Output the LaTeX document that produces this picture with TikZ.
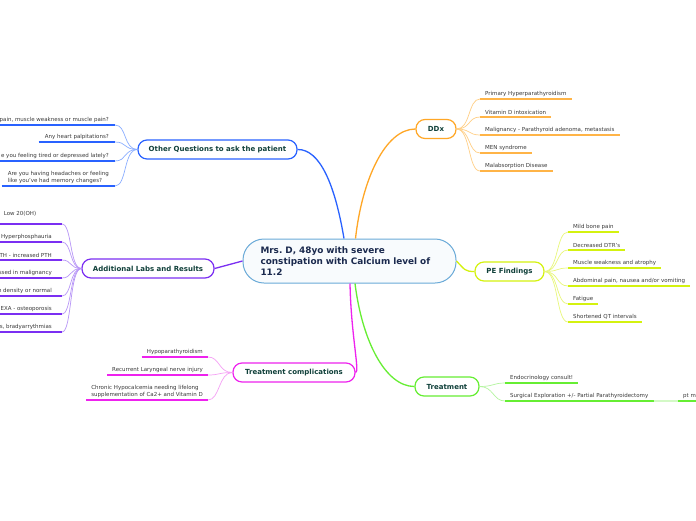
\documentclass[tikz,border=0pt]{standalone}
\usepackage{fontspec}
\setmainfont{DejaVu Sans}
\usepackage{xcolor}
\usetikzlibrary{arrows.meta}
\frenchspacing

\definecolor{qblue}{HTML}{2962FF}
\definecolor{qbluel}{HTML}{8AAEFF}
\definecolor{ddxc}{HTML}{FFA726}
\definecolor{ddxl}{HTML}{FFCF85}
\definecolor{pec}{HTML}{D4F20F}
\definecolor{pel}{HTML}{E8F77A}
\definecolor{trc}{HTML}{66EE33}
\definecolor{trl}{HTML}{B5F5A0}
\definecolor{coc}{HTML}{EE22EE}
\definecolor{col}{HTML}{F5A0F5}
\definecolor{lac}{HTML}{7B2FF2}
\definecolor{lal}{HTML}{B896F7}
\definecolor{cenc}{HTML}{6AAAD8}
\definecolor{labeltxt}{HTML}{10403A}
\definecolor{centxt}{HTML}{1B2A4E}
\definecolor{leaftxt}{HTML}{3A3A3A}

\begin{document}
\begin{tikzpicture}[
x=1pt, y=-1pt,
topic/.style={draw, line width=1.2pt, rounded corners=9pt, fill=white, minimum height=19pt, inner xsep=6pt, font=\fontsize{7}{8}\selectfont\bfseries, text=labeltxt},
leafr/.style={anchor=south west, inner xsep=5pt, inner ysep=2.2pt, font=\fontsize{5.5}{6.6}\selectfont, text=leaftxt, align=left},
leafl/.style={leafr, anchor=south east},
uline/.style={line width=1.6pt},
twig/.style={line width=0.7pt},
branch/.style={line width=1.3pt}
]
\fill[white] (0,0) rectangle (696,520);
\path[use as bounding box, clip] (0,0) rectangle (696,520);

% central topic
\node[draw=cenc, line width=1pt, fill=cenc!5, rounded corners=21pt, minimum width=213pt, minimum height=44pt, text width=178pt, align=left, font=\fontsize{8.9}{11}\selectfont\bfseries, text=centxt] (central) at (349.5,261) {Mrs. D, 48yo with severe\\constipation with Calcium level of\\11.2};

% main topics
\node[topic, draw=ddxc, minimum width=40pt] (ddx) at (436,129) {DDx};
\node[topic, draw=pec, minimum width=69pt] (pe) at (509.5,271.5) {PE Findings};
\node[topic, draw=trc, minimum width=64pt] (treat) at (447,386.5) {Treatment};
\node[topic, draw=coc, minimum width=122pt] (compl) at (294,372.5) {Treatment complications};
\node[topic, draw=lac, minimum width=132pt] (labs) at (148,268.5) {Additional Labs and Results};
\node[topic, draw=qblue, minimum width=159pt] (quest) at (217.5,149.5) {Other Questions to ask the patient};

% branches
\draw[branch, ddxc] ([xshift=6pt]central.north) .. controls (362,180) and (385,129) .. (ddx.west);
\draw[branch, qblue] ([xshift=-5.5pt]central.north) .. controls (335,185) and (320,149) .. (quest.east);
\draw[branch, pec] (central.east) .. controls (465,270) and (465,271.5) .. (pe.west);
\draw[branch, trc] ([xshift=5.5pt]central.south) .. controls (362,340) and (385,386.5) .. (treat.west);
\draw[branch, coc] ([xshift=0.5pt]central.south) .. controls (351,335) and (360,372.5) .. (compl.east);
\draw[branch, lac] (central.west) -- (labs.east);

% DDx
\node[leafr] (d1) at (480,99) {Primary Hyperparathyroidism};
\node[leafr] (d2) at (480,117) {Vitamin D intoxication};
\node[leafr] (d3) at (480,135) {Malignancy - Parathyroid adenoma, metastasis};
\node[leafr] (d4) at (480,153) {MEN syndrome};
\node[leafr] (d5) at (480,171) {Malabsorption Disease};
\foreach \n in {d1,d2,d3,d4,d5}{
  \draw[twig, ddxl] (ddx.east) .. controls +(14,0) and +(-12,0) .. (\n.south west);
  \draw[uline, ddxc!85] (\n.south west) -- (\n.south east);
}

% PE Findings
\node[leafr] (p1) at (568,232) {Mild bone pain};
\node[leafr] (p2) at (568,250) {Decreased DTR's};
\node[leafr] (p3) at (568,268) {Muscle weakness and atrophy};
\node[leafr] (p4) at (568,286) {Abdominal pain, nausea and/or vomiting};
\node[leafr] (p5) at (568,304) {Fatigue};
\node[leafr] (p6) at (568,322) {Shortened QT intervals};
\foreach \n in {p1,p2,p3,p4,p5,p6}{
  \draw[twig, pel] (pe.east) .. controls +(14,0) and +(-12,0) .. (\n.south west);
  \draw[uline, pec] (\n.south west) -- (\n.south east);
}

% Treatment
\node[leafr] (t1) at (505,383) {Endocrinology consult!};
\node[leafr] (t2) at (505,401) {Surgical Exploration +/- Partial Parathyroidectomy};
\node[leafr] (t3) at (678,401) {pt m};
\foreach \n in {t1,t2}{
  \draw[twig, trl] (treat.east) .. controls +(14,0) and +(-12,0) .. (\n.south west);
  \draw[uline, trc] (\n.south west) -- (\n.south east);
}
\draw[uline, trl!60] (t2.south east) -- (t3.south west);
\draw[uline, trc] (t3.south west) -- (t3.south east);

% Treatment complications
\node[leafl] (c1) at (208,357) {Hypoparathyroidism};
\node[leafl] (c2) at (208,375) {Recurrent Laryngeal nerve injury};
\node[leafl] (c3) at (208,400) {Chronic Hypocalcemia needing lifelong\\supplementation of Ca2+ and Vitamin D};
\foreach \n in {c1,c2,c3}{
  \draw[twig, col] (compl.west) .. controls +(-14,0) and +(12,0) .. (\n.south east);
  \draw[uline, coc] (\n.south west) -- (\n.south east);
}

% Additional Labs and Results
\node[leafl, inner xsep=10pt, inner ysep=8pt, text width=48pt] (l1) at (62,224) {Low 20(OH)};
\node[leafl, inner xsep=10pt] (l2) at (62,242) {Hyperphosphauria};
\node[leafl, inner xsep=10pt] (l3) at (62,260) {TH - increased PTH};
\node[leafl, inner xsep=10pt] (l4) at (62,278) {ssed in malignancy};
\node[leafl, inner xsep=10pt] (l5) at (62,296) {n density or normal};
\node[leafl, inner xsep=10pt] (l6) at (62,314) {EXA - osteoporosis};
\node[leafl, inner xsep=10pt] (l7) at (62,332) {s, bradyarrythmias};
\foreach \n in {l1,l2,l3,l4,l5,l6,l7}{
  \draw[twig, lal] (labs.west) .. controls +(-12,0) and +(10,0) .. (\n.south east);
  \draw[uline, lac] (\n.south west) -- (\n.south east);
}

% Other Questions
\node[leafl, inner xsep=6pt] (q1) at (115,125) {pain, muscle weakness or muscle pain?};
\node[leafl, inner xsep=6pt] (q2) at (115,142) {Any heart palpitations?};
\node[leafl, inner xsep=6pt] (q3) at (115,161) {e you feeling tired or depressed lately?};
\node[leafl, inner xsep=6pt] (q4) at (115,186) {Are you having headaches or feeling\\like you've had memory changes?};
\foreach \n in {q1,q2,q3,q4}{
  \draw[twig, qbluel] (quest.west) .. controls +(-14,0) and +(12,0) .. (\n.south east);
  \draw[uline, qblue] (\n.south west) -- (\n.south east);
}
\end{tikzpicture}
\end{document}
